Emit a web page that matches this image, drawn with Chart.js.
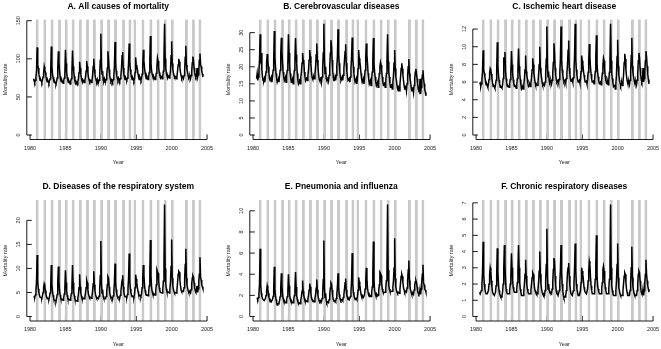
<!DOCTYPE html>
<html lang="en">
<head>
<meta charset="UTF-8" />
<title>Monthly mortality rates, 1980-2004</title>
<script src="https://cdn.jsdelivr.net/npm/chart.js@4.4.0/dist/chart.umd.min.js"></script>
<style>
  body { margin: 0; background: #fff; width: 661px; height: 349px; overflow: hidden; position: relative; }
  .panel { position: absolute; }
</style>
</head>
<body>
<div class="panel" style="left:0px;top:0px"><canvas id="chartA" width="215" height="175"></canvas></div>
<div class="panel" style="left:223px;top:0px"><canvas id="chartB" width="215" height="175"></canvas></div>
<div class="panel" style="left:446px;top:0px"><canvas id="chartC" width="215" height="175"></canvas></div>
<div class="panel" style="left:0px;top:175px"><canvas id="chartD" width="215" height="174"></canvas></div>
<div class="panel" style="left:223px;top:175px"><canvas id="chartE" width="215" height="174"></canvas></div>
<div class="panel" style="left:446px;top:175px"><canvas id="chartF" width="215" height="174"></canvas></div>

<script>
// monthly series, July 1980 to June 2004, one row per season (Jul .. Jun)
const firstMonth = 1980.5;

const allCauses = [
  74, 71, 69, 72, 76, 84, 115, 92, 88, 80, 76, 72,
  73, 71, 69, 72, 76, 82, 90, 86, 82, 77, 73, 70,
  72, 70, 68, 71, 74, 82, 116, 90, 80, 76, 72, 69,
  70, 68, 67, 70, 75, 88, 110, 96, 84, 77, 72, 70,
  72, 70, 68, 71, 75, 80, 112, 94, 82, 76, 72, 69,
  71, 69, 67, 70, 74, 84, 111, 90, 83, 77, 71, 68,
  70, 68, 66, 70, 74, 82, 96, 88, 80, 75, 71, 69,
  72, 71, 69, 72, 76, 84, 97, 90, 82, 76, 72, 70,
  72, 71, 69, 72, 78, 90, 100, 86, 80, 75, 72, 70,
  73, 70, 69, 72, 78, 98, 133, 90, 80, 84, 72, 71,
  74, 71, 70, 73, 79, 88, 110, 100, 86, 78, 74, 71,
  73, 72, 70, 73, 78, 90, 122, 95, 84, 78, 74, 72,
  75, 73, 71, 74, 78, 88, 104, 109, 88, 80, 76, 73,
  75, 73, 72, 75, 80, 95, 120, 96, 86, 80, 76, 73,
  75, 73, 71, 74, 82, 102, 92, 90, 86, 80, 76, 73,
  76, 74, 72, 75, 80, 92, 112, 98, 88, 82, 77, 74,
  77, 75, 73, 76, 82, 100, 130, 94, 84, 80, 77, 74,
  76, 74, 73, 76, 81, 90, 101, 97, 88, 82, 78, 75,
  77, 76, 74, 77, 84, 102, 146, 100, 88, 82, 78, 75,
  78, 77, 75, 78, 84, 104, 123, 94, 86, 81, 78, 76,
  77, 76, 74, 77, 84, 92, 100, 96, 88, 82, 78, 75,
  77, 76, 74, 78, 85, 102, 117, 92, 86, 82, 78, 75,
  76, 77, 74, 78, 84, 95, 103, 98, 88, 82, 78, 76,
  78, 88, 76, 79, 85, 98, 107, 93, 90, 84, 80, 76
];

const cerebrovascular = [
  16.5, 18, 16, 17, 19, 22, 29.5, 21, 24, 19, 17, 16,
  15.8, 16.5, 15.5, 17, 18.5, 21, 23.7, 22, 20, 18, 16.5, 16,
  16, 17, 15.5, 17, 19, 22, 30.5, 23, 20, 18, 16.5, 15.5,
  15.5, 16.5, 15.5, 17.5, 19, 24, 28.5, 24.5, 21, 18.5, 17, 16,
  16, 17, 15.5, 17.5, 19, 21, 29.5, 24, 20.5, 18, 16.5, 15.5,
  16, 16.5, 15, 17, 19, 22, 28.4, 23.5, 21, 18, 16, 15,
  15.5, 16.5, 15, 17, 18.5, 21, 24, 22, 21.5, 18.5, 17, 16,
  16.5, 17, 16, 17.5, 19, 22, 24.9, 23, 21, 18.5, 17, 16.5,
  16.5, 17, 16.5, 18, 20, 23.5, 26.8, 22, 20, 18, 16.5, 16,
  16, 17, 15.5, 17, 19.5, 24, 32.6, 22, 18, 20, 16.5, 16,
  16, 17, 16, 17.5, 20, 24, 27.8, 26, 22, 19, 17, 16,
  16, 17, 16, 17.5, 20, 23, 31, 24, 21, 18.5, 17, 16,
  16.5, 17, 16, 17.5, 19.5, 22, 24.5, 26.6, 21, 18.5, 17, 16,
  16, 16.5, 15.5, 17, 19.5, 23, 28.6, 22.5, 20, 18, 16.5, 15.5,
  15.5, 16.5, 15, 17, 19.5, 24.9, 22.5, 21.5, 20, 18, 16.5, 15.5,
  15.5, 16.5, 15, 17, 19, 22.5, 26.8, 23.5, 21, 18, 16.5, 15,
  15, 16, 14.5, 16.5, 18.5, 22, 28.4, 21, 18.5, 17, 15.5, 14.5,
  14.5, 15.5, 14, 16, 18, 20, 21.3, 20.5, 19, 17, 15.5, 14.5,
  14.5, 15.5, 14, 16, 18, 22, 29.5, 21.5, 18.5, 17, 15, 14,
  14, 15, 13.5, 15.5, 17.5, 21, 24.9, 19.5, 17, 16, 14.5, 13.5,
  13, 14.5, 13, 15, 17, 19.5, 21, 19.5, 17.5, 16, 14.5, 13.5,
  13.5, 14.5, 13, 15, 17.5, 20, 22.3, 18, 16.5, 15.5, 14, 13,
  13, 14, 12.5, 14.5, 16.5, 18.5, 19.4, 18, 16.5, 15, 13.5, 13,
  13, 16.5, 12, 14, 16, 17.5, 19, 16.5, 15, 13.5, 12.5, 11.5
];

const ischemicHeart = [
  5.8, 5.9, 5.5, 5.8, 6.3, 7.2, 9.6, 7.4, 7.0, 6.6, 6.1, 5.7,
  5.8, 5.6, 5.4, 5.8, 6.3, 7.0, 7.5, 7.3, 6.9, 6.4, 5.9, 5.5,
  5.6, 5.5, 5.3, 5.7, 6.2, 7.3, 10.5, 7.8, 6.8, 6.2, 5.8, 5.4,
  5.5, 5.4, 5.3, 5.7, 6.4, 8.8, 8.2, 9.4, 7.2, 6.4, 5.9, 5.5,
  5.6, 5.5, 5.4, 5.8, 6.3, 7.1, 9.5, 8.0, 7.0, 6.3, 5.8, 5.5,
  5.6, 5.5, 5.3, 5.7, 6.4, 7.5, 9.8, 7.8, 7.0, 6.3, 5.7, 5.2,
  5.3, 5.4, 5.2, 5.7, 6.4, 7.4, 9.0, 7.2, 6.8, 6.3, 5.8, 5.5,
  5.6, 5.7, 5.5, 5.9, 6.5, 7.4, 8.7, 8.0, 7.0, 6.5, 6.0, 5.7,
  5.8, 5.8, 5.6, 6.0, 6.8, 8.0, 10.0, 7.6, 7.0, 6.5, 6.0, 5.7,
  5.8, 5.8, 5.6, 6.0, 6.9, 8.6, 12.3, 7.8, 6.6, 7.2, 6.2, 5.9,
  6.0, 6.1, 5.8, 6.2, 7.0, 8.2, 10.4, 9.4, 7.6, 6.8, 6.3, 6.0,
  6.1, 6.2, 5.9, 6.3, 7.1, 8.6, 12.3, 8.6, 7.4, 6.8, 6.3, 6.0,
  6.1, 6.2, 5.9, 6.4, 7.0, 8.0, 9.6, 10.7, 7.6, 6.9, 6.4, 6.1,
  6.2, 6.3, 6.0, 6.5, 7.3, 9.0, 12.6, 8.6, 7.4, 6.8, 6.3, 6.0,
  6.1, 6.2, 5.9, 6.3, 7.2, 9.0, 8.4, 8.0, 7.3, 6.8, 6.3, 6.0,
  6.0, 6.1, 5.8, 6.3, 7.1, 8.4, 10.3, 8.9, 7.6, 6.9, 6.3, 6.0,
  6.0, 6.1, 5.8, 6.3, 7.2, 8.8, 11.3, 8.2, 7.1, 6.6, 6.1, 5.8,
  5.9, 6.0, 5.7, 6.2, 7.0, 7.9, 8.7, 8.4, 7.4, 6.7, 6.2, 5.9,
  5.8, 6.0, 5.7, 6.2, 7.1, 8.8, 12.6, 8.4, 7.0, 6.4, 5.9, 5.5,
  5.6, 5.7, 5.2, 5.9, 6.8, 8.9, 10.8, 7.8, 6.8, 6.3, 5.9, 5.6,
  5.8, 5.9, 5.6, 6.0, 6.8, 8.2, 9.2, 8.6, 7.4, 6.7, 6.2, 5.9,
  5.9, 6.0, 5.7, 6.2, 7.2, 9.0, 11.0, 7.8, 7.0, 6.6, 6.2, 5.9,
  5.8, 6.0, 5.7, 6.2, 7.0, 8.4, 9.3, 8.8, 7.6, 6.8, 6.3, 6.0,
  6.2, 7.6, 6.0, 6.4, 7.2, 8.4, 9.5, 8.8, 7.8, 6.9, 6.3, 5.8
];

const respiratory = [
  4.2, 4.1, 4.0, 4.5, 5.5, 7.2, 12.8, 7.5, 5.8, 5.0, 4.4, 4.0,
  4.0, 3.9, 3.8, 4.3, 5.0, 6.0, 6.8, 6.4, 5.4, 4.6, 4.1, 3.7,
  3.8, 3.7, 3.6, 4.1, 4.9, 6.2, 10.7, 6.8, 5.3, 4.4, 3.8, 3.4,
  3.4, 3.3, 3.2, 3.8, 4.6, 7.2, 10.4, 7.4, 5.4, 4.5, 3.9, 3.5,
  3.6, 3.5, 3.4, 3.9, 4.7, 5.8, 9.6, 7.0, 5.3, 4.4, 3.8, 3.5,
  3.6, 3.5, 3.4, 3.9, 4.8, 6.4, 10.7, 7.0, 5.2, 4.3, 3.7, 3.3,
  3.3, 3.3, 3.2, 3.8, 4.6, 6.0, 8.8, 6.2, 5.0, 4.3, 3.8, 3.6,
  3.8, 3.8, 3.7, 4.1, 4.9, 6.0, 7.5, 7.0, 5.6, 4.7, 4.2, 3.9,
  4.0, 3.9, 3.8, 4.3, 5.3, 6.8, 9.4, 6.6, 5.3, 4.6, 4.1, 3.8,
  3.9, 3.8, 3.7, 4.2, 5.5, 8.5, 15.7, 6.8, 4.9, 5.6, 4.2, 3.8,
  3.8, 3.8, 3.7, 4.2, 5.2, 6.6, 8.3, 8.0, 6.2, 5.0, 4.3, 3.9,
  3.9, 3.9, 3.8, 4.3, 5.3, 7.0, 11.0, 7.2, 5.6, 4.7, 4.2, 3.9,
  4.0, 4.0, 3.9, 4.4, 5.3, 6.5, 7.6, 8.6, 6.2, 5.0, 4.4, 4.1,
  4.1, 4.1, 4.0, 4.6, 5.8, 8.0, 13.1, 7.6, 5.8, 5.0, 4.4, 4.1,
  4.2, 4.1, 4.0, 4.6, 6.0, 8.7, 7.8, 7.0, 6.0, 5.2, 4.6, 4.3,
  4.4, 4.3, 4.2, 4.8, 6.0, 8.0, 10.7, 8.6, 6.6, 5.4, 4.7, 4.4,
  4.5, 4.4, 4.3, 5.0, 6.4, 9.2, 15.9, 8.4, 6.0, 5.2, 4.7, 4.5,
  4.7, 4.6, 4.5, 5.2, 6.6, 9.7, 9.3, 9.0, 7.4, 6.0, 5.3, 5.0,
  5.0, 5.0, 4.9, 5.6, 7.4, 11.0, 23.3, 10.0, 6.8, 5.8, 5.2, 5.0,
  5.1, 5.0, 4.9, 5.6, 7.2, 10.4, 16.0, 8.0, 6.4, 5.6, 5.2, 4.9,
  5.0, 5.0, 4.9, 5.6, 7.0, 8.8, 9.4, 9.2, 7.6, 6.3, 5.5, 5.2,
  5.3, 5.3, 5.2, 6.0, 7.8, 10.8, 14.1, 8.0, 6.6, 5.9, 5.4, 5.0,
  5.0, 5.1, 4.9, 5.6, 6.8, 8.0, 8.5, 8.2, 7.0, 6.0, 5.4, 5.1,
  5.2, 6.4, 5.0, 5.8, 7.4, 8.8, 12.3, 8.2, 7.6, 6.6, 6.2, 5.8
];

const pneumoniaFlu = [
  1.7, 1.7, 1.6, 1.8, 2.2, 3.0, 6.4, 3.0, 2.2, 1.9, 1.7, 1.6,
  1.6, 1.5, 1.5, 1.7, 2.0, 2.4, 2.9, 2.6, 2.2, 1.8, 1.6, 1.4,
  1.5, 1.4, 1.4, 1.6, 1.9, 2.5, 4.7, 2.6, 2.0, 1.6, 1.3, 1.1,
  1.2, 1.2, 1.3, 1.5, 1.9, 2.8, 4.1, 2.9, 2.1, 1.7, 1.5, 1.3,
  1.4, 1.3, 1.3, 1.6, 1.9, 2.4, 4.0, 2.9, 2.1, 1.7, 1.5, 1.3,
  1.4, 1.3, 1.3, 1.6, 2.0, 2.6, 4.2, 2.8, 2.0, 1.6, 1.4, 1.2,
  1.3, 1.3, 1.2, 1.6, 1.9, 2.4, 3.4, 2.4, 2.0, 1.7, 1.5, 1.4,
  1.5, 1.5, 1.4, 1.7, 2.0, 2.5, 3.1, 2.8, 2.2, 1.8, 1.6, 1.5,
  1.5, 1.5, 1.4, 1.7, 2.1, 2.7, 3.5, 2.5, 2.0, 1.7, 1.5, 1.4,
  1.5, 1.4, 1.4, 1.7, 2.2, 3.5, 7.2, 2.6, 1.8, 2.2, 1.5, 1.3,
  1.4, 1.4, 1.3, 1.6, 2.1, 2.7, 3.2, 3.1, 2.5, 1.9, 1.6, 1.5,
  1.5, 1.5, 1.4, 1.7, 2.1, 2.8, 4.1, 2.8, 2.1, 1.8, 1.6, 1.5,
  1.6, 1.6, 1.5, 1.8, 2.1, 2.6, 3.2, 3.6, 2.5, 2.0, 1.8, 1.6,
  1.7, 1.6, 1.6, 1.9, 2.4, 3.4, 6.0, 3.1, 2.3, 2.0, 1.8, 1.6,
  1.7, 1.7, 1.6, 1.9, 2.5, 3.7, 3.3, 3.0, 2.5, 2.1, 1.9, 1.8,
  1.9, 1.8, 1.8, 2.1, 2.6, 3.4, 4.6, 3.6, 2.7, 2.3, 2.0, 1.9,
  2.0, 1.9, 1.9, 2.2, 2.8, 4.0, 7.1, 3.4, 2.5, 2.2, 2.0, 1.9,
  2.1, 2.0, 2.0, 2.4, 3.0, 4.2, 4.1, 3.9, 3.2, 2.6, 2.4, 2.2,
  2.3, 2.3, 2.3, 2.7, 3.4, 4.8, 10.6, 4.4, 3.0, 2.6, 2.4, 2.3,
  2.4, 2.4, 2.4, 2.8, 3.4, 4.6, 7.4, 3.6, 2.8, 2.5, 2.3, 2.2,
  2.3, 2.3, 2.2, 2.6, 3.2, 3.8, 4.0, 3.8, 3.2, 2.7, 2.5, 2.3,
  2.4, 2.4, 2.3, 2.7, 3.4, 4.4, 5.3, 3.4, 2.8, 2.5, 2.3, 2.1,
  2.1, 2.2, 2.1, 2.5, 3.0, 3.3, 3.4, 3.2, 2.8, 2.4, 2.2, 2.1,
  2.2, 2.6, 2.1, 2.6, 3.4, 4.0, 4.9, 3.2, 3.0, 2.6, 2.5, 2.3
];

const chronicResp = [
  1.5, 1.4, 1.4, 1.6, 2.0, 2.7, 4.6, 2.6, 2.0, 1.7, 1.5, 1.4,
  1.4, 1.4, 1.4, 1.6, 2.0, 2.6, 3.0, 2.8, 2.2, 1.8, 1.5, 1.4,
  1.4, 1.3, 1.3, 1.5, 1.9, 2.6, 4.2, 2.8, 2.0, 1.6, 1.4, 1.3,
  1.2, 1.2, 1.3, 1.5, 2.0, 3.0, 4.4, 3.2, 2.2, 1.7, 1.5, 1.4,
  1.4, 1.4, 1.4, 1.6, 2.0, 2.5, 3.9, 3.0, 2.2, 1.8, 1.6, 1.5,
  1.5, 1.5, 1.5, 1.7, 2.1, 2.8, 4.4, 3.0, 2.1, 1.7, 1.5, 1.3,
  1.3, 1.3, 1.3, 1.6, 2.0, 2.6, 3.5, 2.5, 2.0, 1.7, 1.5, 1.4,
  1.4, 1.4, 1.4, 1.6, 2.0, 2.4, 2.7, 2.6, 2.2, 1.8, 1.6, 1.5,
  1.5, 1.4, 1.4, 1.7, 2.1, 2.8, 4.0, 2.6, 2.0, 1.7, 1.5, 1.4,
  1.4, 1.3, 1.3, 1.6, 2.2, 3.2, 5.4, 2.5, 1.7, 2.0, 1.6, 1.5,
  1.5, 1.5, 1.4, 1.7, 2.1, 2.9, 3.6, 3.4, 2.5, 1.9, 1.6, 1.4,
  1.4, 1.3, 1.3, 1.6, 2.1, 2.9, 4.4, 2.7, 2.0, 1.6, 1.3, 1.15,
  1.2, 1.2, 1.3, 1.6, 2.0, 2.7, 3.0, 3.3, 2.5, 1.9, 1.6, 1.4,
  1.4, 1.3, 1.3, 1.6, 2.1, 3.0, 4.5, 2.8, 2.0, 1.7, 1.5, 1.3,
  1.3, 1.3, 1.3, 1.6, 2.1, 3.0, 2.8, 2.6, 2.2, 1.8, 1.6, 1.5,
  1.5, 1.4, 1.4, 1.7, 2.2, 2.8, 3.4, 3.2, 2.4, 1.9, 1.6, 1.4,
  1.4, 1.4, 1.4, 1.7, 2.3, 3.2, 5.0, 2.6, 1.9, 1.7, 1.5, 1.4,
  1.4, 1.4, 1.4, 1.7, 2.1, 2.9, 3.1, 2.8, 2.2, 1.8, 1.6, 1.4,
  1.4, 1.4, 1.4, 1.7, 2.3, 3.4, 6.9, 3.0, 1.9, 1.6, 1.4, 1.3,
  1.3, 1.3, 1.3, 1.6, 2.2, 3.2, 4.5, 2.4, 1.8, 1.6, 1.4, 1.3,
  1.3, 1.3, 1.3, 1.6, 2.0, 2.5, 2.7, 2.6, 2.1, 1.7, 1.5, 1.3,
  1.3, 1.3, 1.3, 1.6, 2.1, 3.0, 4.3, 2.4, 1.8, 1.6, 1.4, 1.3,
  1.3, 1.3, 1.3, 1.6, 2.0, 2.6, 2.8, 2.7, 2.2, 1.8, 1.5, 1.4,
  1.4, 1.7, 1.3, 1.6, 2.1, 2.6, 3.5, 2.6, 2.2, 1.9, 1.7, 1.5
];

// shaded winter periods (decimal years); no band for 2001
const bandStart = [1980.80, 1981.88, 1982.90, 1983.96, 1984.90, 1985.88, 1986.90, 1987.90,
  1988.88, 1989.90, 1990.88, 1991.86, 1993.00, 1993.90, 1994.60, 1995.75, 1996.86, 1997.88,
  1998.88, 1999.88, 2001.88, 2002.86, 2003.78];
const bandEnd = [1981.22, 1982.30, 1983.32, 1984.38, 1985.32, 1986.30, 1987.32, 1988.32,
  1989.30, 1990.32, 1991.30, 1992.28, 1993.42, 1994.32, 1994.97, 1996.15, 1997.28, 1998.30,
  1999.30, 2000.30, 2002.30, 2003.28, 2004.20];

const xTicks = [1980, 1985, 1990, 1995, 2000, 2005];
const ticksA = [0, 50, 100, 150];
const ticksB = [0, 5, 10, 15, 20, 25, 30];
const ticksC = [0, 2, 4, 6, 8, 10, 12];
const ticksD = [0, 5, 10, 15, 20];
const ticksE = [0, 2, 4, 6, 8, 10];
const ticksF = [0, 1, 2, 3, 4, 5, 6, 7];

const FONT = '"Liberation Sans", Arial, Helvetica, sans-serif';

// R style axes: inward ticks under the bands, lines and labels on top
const rAxes = {
  id: 'rAxes',
  beforeDatasetsDraw(chart, args, opts) {
    const ctx = chart.ctx, xs = chart.scales.x, ys = chart.scales.y, a = chart.chartArea;
    ctx.save();
    ctx.strokeStyle = '#000';
    ctx.lineWidth = 0.9;
    ctx.beginPath();
    xTicks.forEach(v => {
      const px = xs.getPixelForValue(v);
      ctx.moveTo(px, a.bottom); ctx.lineTo(px, a.bottom - 5);
    });
    opts.yTicks.forEach(v => {
      const py = ys.getPixelForValue(v);
      ctx.moveTo(a.left, py); ctx.lineTo(a.left + 5, py);
    });
    ctx.stroke();
    ctx.restore();
  },
  afterDatasetsDraw(chart, args, opts) {
    const ctx = chart.ctx, xs = chart.scales.x, ys = chart.scales.y, a = chart.chartArea;
    const yt = opts.yTicks;
    ctx.save();
    ctx.strokeStyle = '#000';
    ctx.lineWidth = 0.9;
    ctx.beginPath();
    ctx.moveTo(xs.getPixelForValue(xTicks[0]), a.bottom);
    ctx.lineTo(xs.getPixelForValue(xTicks[xTicks.length - 1]), a.bottom);
    ctx.moveTo(a.left, ys.getPixelForValue(yt[0]));
    ctx.lineTo(a.left, ys.getPixelForValue(yt[yt.length - 1]));
    ctx.stroke();

    ctx.fillStyle = '#222';
    ctx.font = '5.5px ' + FONT;
    ctx.textAlign = 'center';
    ctx.textBaseline = 'middle';
    xTicks.forEach(v => ctx.fillText(String(v), xs.getPixelForValue(v), a.bottom + 8.8));
    const midX = (a.left + a.right) / 2;
    ctx.fillText('Year', midX, a.bottom + 23);

    yt.forEach(v => {
      ctx.save();
      ctx.translate(a.left - 8.3, ys.getPixelForValue(v));
      ctx.rotate(-Math.PI / 2);
      ctx.fillText(String(v), 0, 0);
      ctx.restore();
    });
    ctx.save();
    ctx.translate(a.left - 21.5, (a.top + a.bottom) / 2);
    ctx.rotate(-Math.PI / 2);
    ctx.fillText('Mortality rate', 0, 0);
    ctx.restore();

    ctx.fillStyle = '#000';
    ctx.font = 'bold 8.5px ' + FONT;
    ctx.fillText(opts.title, midX, a.top - 13);
    ctx.restore();
  }
};

function makePanel(id, title, values, yTicks, row) {
  const pts = values.map((v, i) => ({ x: firstMonth + i / 12, y: v }));
  const xFirst = pts[0].x, xLast = pts[pts.length - 1].x;
  const xPad = 0.04 * (xLast - xFirst);
  const yMax = Math.max(...values);
  const lo = -0.04 * yMax, hi = 1.04 * yMax;

  const bands = bandStart.map((s, k) => ({
    data: [{ x: s, y: hi }, { x: bandEnd[k], y: hi }],
    fill: { value: lo },
    backgroundColor: '#c9c9c9',
    borderWidth: 0,
    pointRadius: 0
  }));

  new Chart(document.getElementById(id), {
    type: 'line',
    data: {
      datasets: [{
        data: pts,
        borderColor: '#000',
        borderWidth: 1.5,
        pointRadius: 0,
        tension: 0,
        fill: false
      }, ...bands]
    },
    options: {
      responsive: false,
      animation: false,
      devicePixelRatio: 1,
      events: [],
      layout: {
        padding: row === 0
          ? { left: 26.8, right: 5.3, top: 19.3, bottom: 35.5 }
          : { left: 26.8, right: 5.3, top: 25, bottom: 28 }
      },
      plugins: {
        legend: { display: false },
        tooltip: { enabled: false },
        rAxes: { yTicks: yTicks, title: title }
      },
      scales: {
        x: { type: 'linear', min: xFirst - xPad, max: xLast + xPad, offset: false, display: false },
        y: { type: 'linear', min: lo, max: hi, display: false }
      }
    },
    plugins: [rAxes]
  });
}

makePanel('chartA', 'A. All causes of mortality', allCauses, ticksA, 0);
makePanel('chartB', 'B. Cerebrovascular diseases', cerebrovascular, ticksB, 0);
makePanel('chartC', 'C. Ischemic heart disease', ischemicHeart, ticksC, 0);
makePanel('chartD', 'D. Diseases of the respiratory system', respiratory, ticksD, 1);
makePanel('chartE', 'E. Pneumonia and influenza', pneumoniaFlu, ticksE, 1);
makePanel('chartF', 'F. Chronic respiratory diseases', chronicResp, ticksF, 1);
</script>
</body>
</html>
